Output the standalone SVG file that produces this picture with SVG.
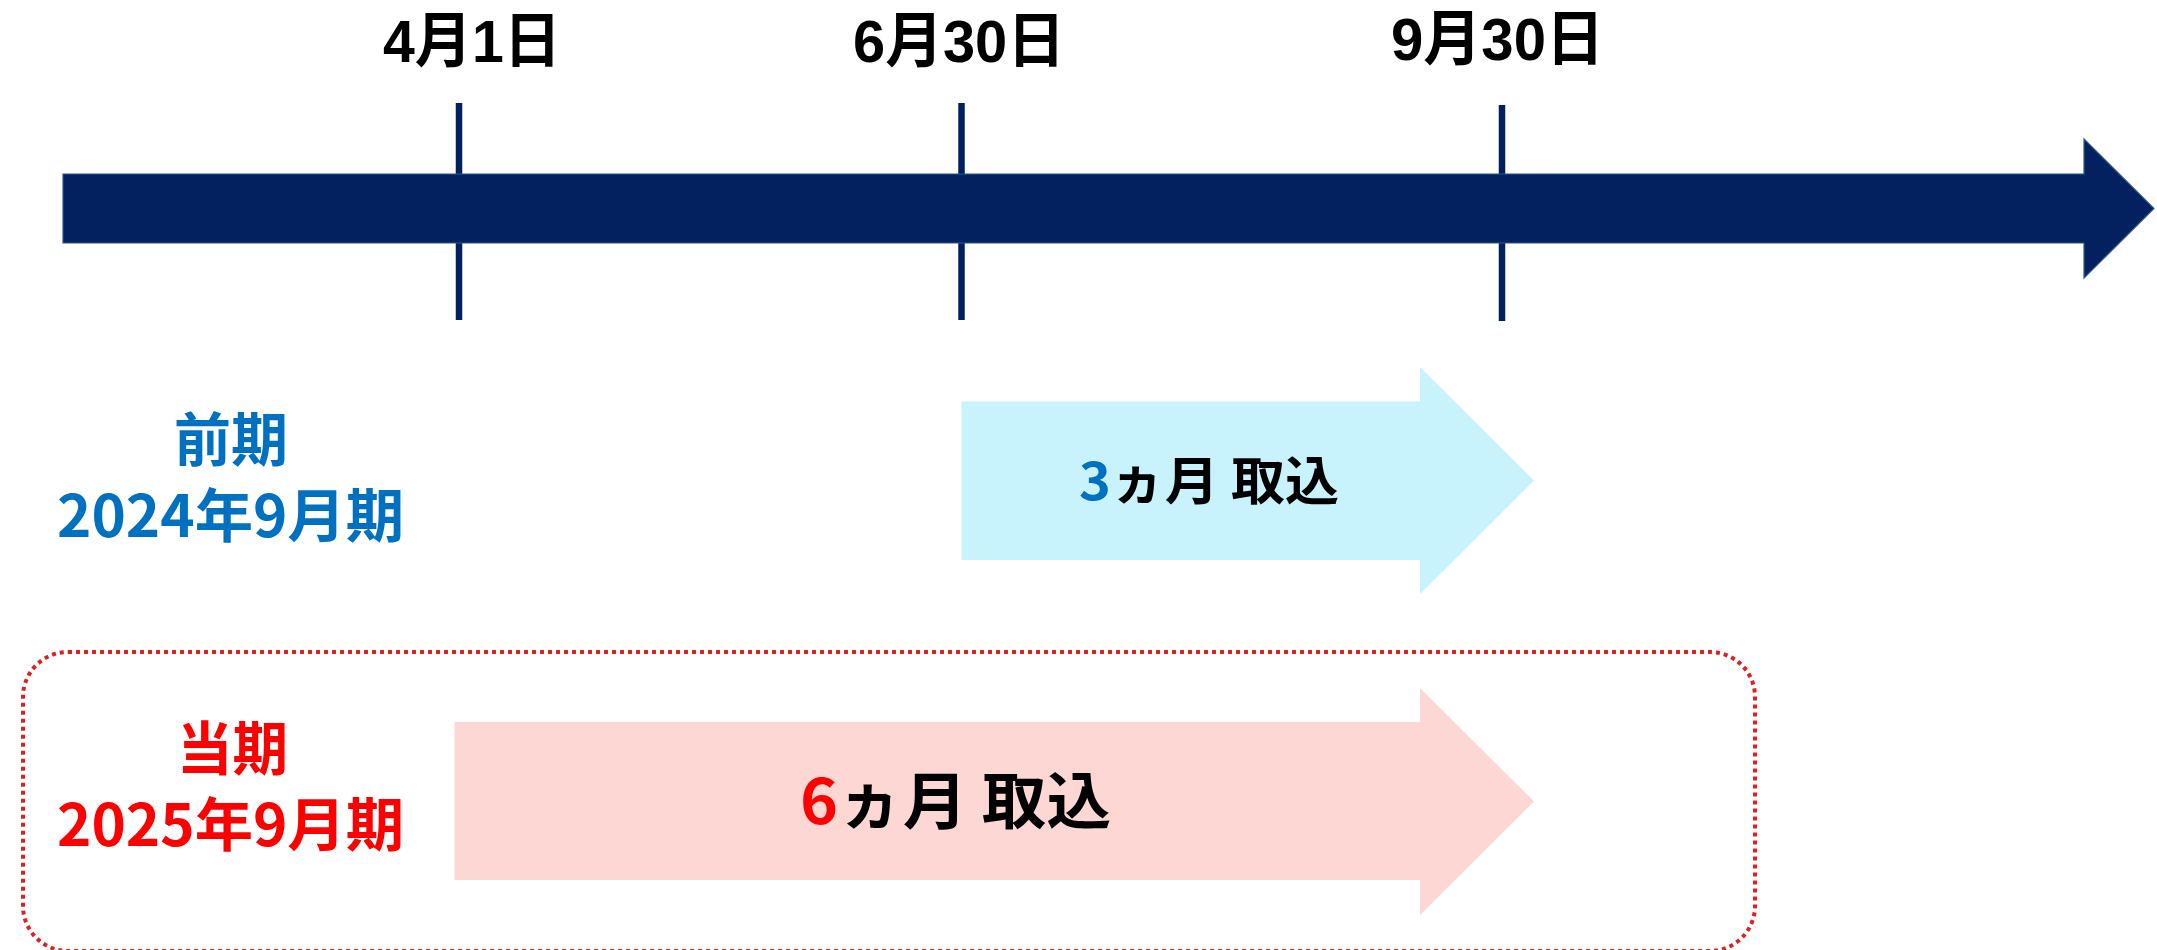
<svg xmlns="http://www.w3.org/2000/svg" width="2157" height="950" viewBox="0 0 2157 950">
  <style>
    .t { font-family: "Noto Sans CJK JP", "Noto Sans", sans-serif; font-weight: bold; }
    .date { font-family: "Liberation Sans", "Noto Sans CJK JP", sans-serif; font-weight: bold; font-size: 60px; fill: #000000; }
    .period { font-size: 58px; }
    .blue { fill: #0070C0; }
    .red { fill: #FF0000; }
    .tick { stroke: #002060; stroke-width: 6.5; fill: none; }
    .inlabel { fill: #000000; }
  </style>
  <rect width="2157" height="950" fill="#FFFFFF"/>

  <g id="connectors">
    <line class="tick" x1="459" y1="103" x2="459" y2="320"/>
    <line class="tick" x1="961.5" y1="103" x2="961.5" y2="320"/>
    <line class="tick" x1="1502" y1="105" x2="1502" y2="321"/>
  </g>

  <g id="timeline">
    <polygon points="63,174 2084,174 2084,139 2154,208.5 2084,278 2084,243 63,243" fill="#02215E" stroke="#2E5690" stroke-width="1.2"/>
  </g>

  <g id="date-apr1">
    <text class="date" x="383" y="62" textLength="178" lengthAdjust="spacingAndGlyphs">4月1日</text>
  </g>
  <g id="date-jun30">
    <text class="date" x="853" y="62" textLength="212" lengthAdjust="spacingAndGlyphs">6月30日</text>
  </g>
  <g id="date-sep30">
    <text class="date" x="1391" y="60" textLength="213" lengthAdjust="spacingAndGlyphs">9月30日</text>
  </g>

  <g id="prev-label">
    <text class="t period blue" x="174" y="461" textLength="114" lengthAdjust="spacingAndGlyphs">前期</text>
    <text class="t period blue" x="57" y="537" textLength="347" lengthAdjust="spacingAndGlyphs">2024年9月期</text>
  </g>

  <g id="prev-arrow">
    <polygon points="961.5,401.5 1420,401.5 1420,367 1534,480.5 1420,594 1420,560 961.5,560" fill="#C9F3FC"/>
    <text class="t inlabel" x="1079" y="500" font-size="52" textLength="260" lengthAdjust="spacingAndGlyphs"><tspan class="blue">3</tspan>ヵ月 取込</text>
  </g>

  <g id="current-box">
    <rect x="23" y="652" width="1732" height="299" rx="45" ry="45" fill="none" stroke="#E02020" stroke-width="4" stroke-dasharray="4 4"/>
  </g>

  <g id="current-label">
    <text class="t period red" x="177" y="770" textLength="111" lengthAdjust="spacingAndGlyphs">当期</text>
    <text class="t period red" x="57" y="846" textLength="347" lengthAdjust="spacingAndGlyphs">2025年9月期</text>
  </g>

  <g id="current-arrow">
    <polygon points="454.5,722 1420,722 1420,688 1534,801.5 1420,915 1420,880 454.5,880" fill="#FDD7D3"/>
    <text class="t inlabel" x="800" y="824" font-size="62" textLength="311" lengthAdjust="spacingAndGlyphs"><tspan class="red">6</tspan>ヵ月 取込</text>
  </g>
</svg>
